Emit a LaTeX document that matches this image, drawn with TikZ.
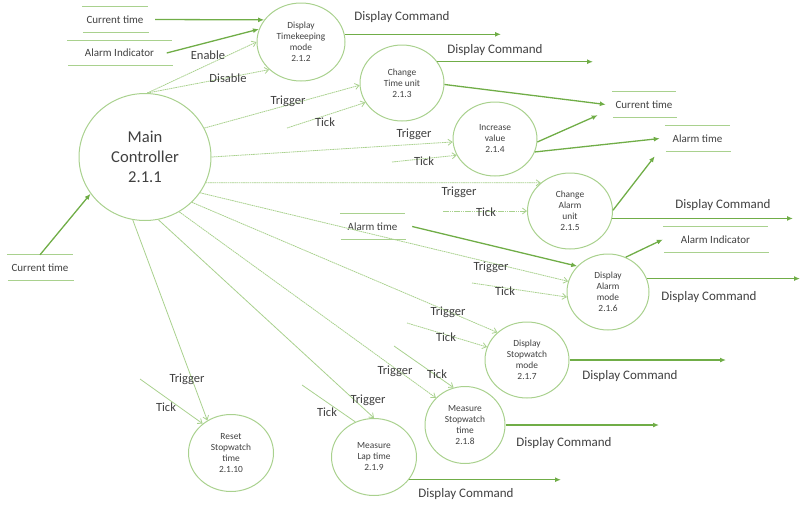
\documentclass[tikz,border=0pt]{standalone}
\usepackage{fontspec}
\setmainfont{Carlito}
\usetikzlibrary{arrows.meta,shapes.geometric,calc}
\definecolor{dg}{HTML}{70AD47}
\definecolor{lg}{HTML}{A9D18E}
\definecolor{tx}{HTML}{404040}
\begin{document}
\begin{tikzpicture}[x=1pt,y=-1pt,
  proc/.style={ellipse, draw=lg, line width=1pt, align=center, text=tx, inner sep=0pt,
    font=\fontsize{9.4}{11}\selectfont},
  store/.style={text=tx, inner sep=0pt, minimum height=25pt, font=\fontsize{11}{13}\selectfont},
  sline/.style={draw=lg, line width=0.9pt},
  flow/.style={draw=dg, line width=1.3pt, -{Latex[length=6pt,width=5pt]}},
  ctl/.style={draw=lg, line width=0.8pt, dash pattern=on 1.6pt off 0.6pt, -{Straight Barb[length=4pt,width=6pt]}},
  ctls/.style={draw=lg, line width=0.8pt, -{Straight Barb[length=4pt,width=6pt]}},
  lab/.style={text=tx, inner sep=0pt, font=\fontsize{12.5}{14}\selectfont},
  dcl/.style={text=tx, inner sep=0pt, font=\fontsize{13}{15}\selectfont}]
\path[use as bounding box] (0,0) rectangle (801,504);

% processes
\node[proc, minimum width=132pt, minimum height=127pt, font=\fontsize{16.6}{20}\selectfont] (main) at (145,157) {Main\\Controller\\2.1.1};
\node[proc, minimum width=88pt, minimum height=78pt] (c212) at (301,42) {Display\\Timekeeping\\mode\\2.1.2};
\node[proc, minimum width=84pt, minimum height=76pt] (c213) at (402,83) {Change\\Time unit\\2.1.3};
\node[proc, minimum width=84pt, minimum height=74pt] (c214) at (495,139) {Increase\\value\\2.1.4};
\node[proc, minimum width=85pt, minimum height=76pt] (c215) at (570,211) {Change\\Alarm\\unit\\2.1.5};
\node[proc, minimum width=82pt, minimum height=76pt] (c216) at (608,292) {Display\\Alarm\\mode\\2.1.6};
\node[proc, minimum width=84pt, minimum height=76pt] (c217) at (527,360) {Display\\Stopwatch\\mode\\2.1.7};
\node[proc, minimum width=80pt, minimum height=77pt] (c218) at (465,425) {Measure\\Stopwatch\\time\\2.1.8};
\node[proc, minimum width=85pt, minimum height=77pt] (c219) at (374,457) {Measure\\Lap time\\2.1.9};
\node[proc, minimum width=85pt, minimum height=77pt] (c2110) at (231,453) {Reset\\Stopwatch\\time\\2.1.10};

% stores / terminators
\node[store, minimum width=66pt] (ct1) at (115,19.5) {Current time};
\node[store, minimum width=104pt] (ai1) at (119.5,53) {Alarm Indicator};
\node[store, minimum width=64pt] (ct2) at (644,104.5) {Current time};
\node[store, minimum width=65pt] (at1) at (697.5,138.5) {Alarm time};
\node[store, minimum width=105pt] (ai2) at (715.5,239.5) {Alarm Indicator};
\node[store, minimum width=65pt] (at2) at (372.5,226.5) {Alarm time};
\node[store, minimum width=66pt] (ct3) at (40,267.5) {Current time};
\foreach \n in {ct1,ai1,ct2,at1,ai2,at2,ct3}{
  \draw[sline] (\n.north west) -- (\n.north east);
  \draw[sline] ([xshift=1pt]\n.south west) -- ([xshift=1pt]\n.south east);
}

% free ends
\coordinate (d1) at (501,0);
\coordinate (d2) at (593,0);
\coordinate (d5) at (793,0);
\coordinate (d6) at (800,0);
\coordinate (d7) at (726,0);
\coordinate (d8) at (659,0);
\coordinate (d9) at (561,0);
\coordinate (t3) at (287,128);
\coordinate (t4) at (392,162);
\coordinate (t5) at (443,211);
\coordinate (t6) at (472,283);
\coordinate (t7) at (407,323);
\coordinate (t8) at (394,346);
\coordinate (t9) at (302,385);
\coordinate (t10) at (140,379);

% data flows
\draw[flow] ([xshift=7pt]ct1.east) -- (c212.149);
\draw[flow] ([xshift=-5pt]ai1.east) -- (c212.163);
\draw[flow] (c212.10) -- (c212.10 -| d1);
\draw[flow] (c213.31) -- (c213.31 -| d2);
\draw[flow] (c213.-2) -- ([xshift=-6pt]ct2.west);
\draw[flow] (c214.-4) -- ($(ct2.south west)+(-14,-2)$);
\draw[flow] (c214.-18) -- ([xshift=-5pt]at1.west);
\draw[flow] (c215.1) -- ($(at1.south west)+(-10,5)$);
\draw[flow] (c215.-10) -- (c215.-10 -| d5);
\draw[flow] ([xshift=7pt]at2.east) -- (c216.140);
\draw[flow] (c216.63) -- (ai2.west);
\draw[flow] (c216.19) -- (c216.19 -| d6);
\draw[flow] (c217.0) -- (c217.0 -| d7);
\draw[flow] (c218.0) -- (c218.0 -| d8);
\draw[flow] (c219.-33) -- (c219.-33 -| d9);
\draw[flow] (ct3.north) -- (main.214);

% control flows
\draw[ctl] (main.88) -- (c212.180);
\draw[ctl] (main.88) -- (c212.221);
\draw[ctl] (main.26) -- (c213.183);
\draw[ctl] (t3) -- (c213.208);
\draw[ctl] (main.0) -- (c214.184);
\draw[ctl] (t4) -- (c214.203);
\draw[ctl] (main.-23) -- (c215.136);
\draw[ctl] (t5) -- (c215.180);
\draw[ctl] (main.-33) -- (c216.165);
\draw[ctl] (t6) -- (c216.187);
\draw[ctl] (main.-44) -- (c217.137);
\draw[ctl] (t7) -- (c217.162);
\draw[ctl] (main.-58) -- (c218.137);
\draw[ctls] (t8) -- (c218.107);
\draw[ctls] (main.-78) -- (c219.90);
\draw[draw=lg, line width=0.8pt] (t9) -- (c219.118);
\draw[ctls] (main.259) -- (c2110.126);
\draw[ctls] (t10) -- (c2110.134);

% labels
\node[dcl] (l1) at (402,17) {Display Command};
\node[dcl] (l2) at (495,50) {Display Command};
\node[dcl] (l5) at (723,205) {Display Command};
\node[dcl] (l6) at (709,297) {Display Command};
\node[dcl] (l7) at (630,376) {Display Command};
\node[dcl] (l8) at (564,443) {Display Command};
\node[dcl] (l9) at (466,494) {Display Command};
\node[lab] (en) at (208,55) {Enable};
\node[lab] (di) at (228,78) {Disable};
\node[lab] (g3) at (288,101) {Trigger};
\node[lab] (k3) at (325,122) {Tick};
\node[lab] (g4) at (414,134) {Trigger};
\node[lab] (k4) at (424,161) {Tick};
\node[lab] (g5) at (459,192) {Trigger};
\node[lab] (k5) at (486,212) {Tick};
\node[lab] (g6) at (491,267) {Trigger};
\node[lab] (k6) at (505,291) {Tick};
\node[lab] (g7) at (448,312) {Trigger};
\node[lab] (k7) at (446,337) {Tick};
\node[lab] (g8) at (395,371) {Trigger};
\node[lab] (k8) at (437,374) {Tick};
\node[lab] (g9) at (368,400) {Trigger};
\node[lab] (k9) at (327,412) {Tick};
\node[lab] (g10) at (187,379) {Trigger};
\node[lab] (k10) at (166,407) {Tick};
\end{tikzpicture}
\end{document}
